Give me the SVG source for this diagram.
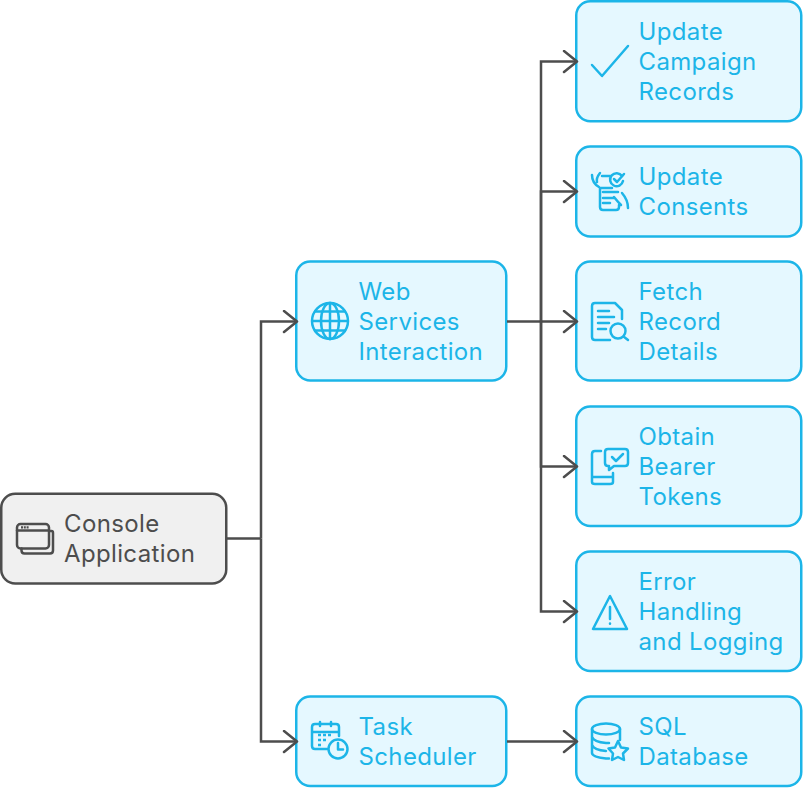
<svg xmlns="http://www.w3.org/2000/svg" width="803" height="788" viewBox="0 0 803 788">
<style>
.b{fill:#e5f8ff;stroke:#1cb5e8;stroke-width:2.5}
.g{fill:#f0f0f0;stroke:#4d4d4d;stroke-width:2.5}
text{font-family:Inter,"Liberation Sans",sans-serif;font-size:24px;letter-spacing:.36px;fill:#1cb5e8}
.i{fill:none;stroke:#1cb5e8;stroke-width:2.5;stroke-linecap:round;stroke-linejoin:round}
.k{fill:none;stroke:#4d4d4d;stroke-width:2.5;stroke-linecap:round;stroke-linejoin:round}
.c{fill:none;stroke:#4d4d4d;stroke-width:2.5}
</style>
<defs>
<marker id="a" markerUnits="userSpaceOnUse" markerWidth="20" markerHeight="24" refX="14" refY="12" orient="auto"><path d="M2 1.500L15 12L2 22.500" fill="none" stroke="#4d4d4d" stroke-width="2.500" stroke-linecap="round" stroke-linejoin="round"/></marker>
</defs>
<g id="console">
<rect class="g" x="1.250" y="493.750" width="225" height="89.750" rx="14"/>
<rect class="k" x="17" y="524" width="32" height="24.500" rx="3.500"/>
<path class="k" d="M17 530.500H49M49.500 531H51.500Q53 531 53 533V550.500Q53 553.500 50 553.500H24.500Q21.500 553.500 21.500 550.500V548.500"/>
<path d="M21 527.300h8" stroke="#4d4d4d" stroke-width="2.200" stroke-dasharray="2 .8" fill="none"/>
<text x="64" y="532" style="fill:#4d4d4d">Console</text>
<text x="64" y="562" style="fill:#4d4d4d">Application</text>
</g>
<g id="web-services">
<rect class="b" x="296.250" y="261.500" width="210" height="119" rx="14"/>
<circle class="i" cx="330" cy="321" r="18"/>
<ellipse class="i" cx="330" cy="321" rx="9" ry="18"/>
<path class="i" d="M330 303V339M312.500 321H347.500M315 311.500H345M315 330.500H345"/>
<text x="358.500" y="300">Web</text><text x="358.500" y="330">Services</text><text x="358.500" y="360">Interaction</text>
</g>
<g id="update-campaign">
<rect class="b" x="576.250" y="1.250" width="225" height="120" rx="14"/>
<path class="i" d="M592 65L602 76L628 46"/>
<text x="638.500" y="40">Update</text><text x="638.500" y="70">Campaign</text><text x="638.500" y="100">Records</text>
</g>
<g id="update-consents">
<rect class="b" x="576.250" y="146.500" width="225" height="90" rx="14"/>
<path class="i" d="M600 188V207Q600 210 603 210H616Q619 210 619 207V205M612 188H600M603 192H618M603 198H614M603 203H610M602 176H610M592 175Q592 183 599 187M600 173Q596 178 597 182M614 197Q618 202 621 205M622 193Q628 200 628 208"/>
<path class="i" d="M622 176A6.500 6.500 0 1 0 623 181"/>
<path class="i" d="M614 179L617 182L624 174"/>
<text x="638.500" y="185">Update</text><text x="638.500" y="215">Consents</text>
</g>
<g id="fetch-record">
<rect class="b" x="576.250" y="261.500" width="225" height="119" rx="14"/>
<path class="i" d="M610 340H595Q592 340 592 337V306Q592 303 595 303H615L622 310V319"/>
<path class="i" d="M598 311H609M598 317H614M598 323H609M598 329H606"/>
<circle class="i" cx="618" cy="331" r="7.500"/>
<path class="i" d="M623.500 336.500L628 340"/>
<text x="638.500" y="300">Fetch</text><text x="638.500" y="330">Record</text><text x="638.500" y="360">Details</text>
</g>
<g id="obtain-tokens">
<rect class="b" x="576.250" y="406.500" width="225" height="119.500" rx="14"/>
<path class="i" d="M601 451H595Q592 451 592 454V482Q592 484 595 484H610Q613 484 613 482V473M592 477H613"/>
<path class="i" d="M608 449H625Q628 449 628 452V463Q628 466 625 466H614L609 470V466H608Q605 466 605 463V452Q605 449 608 449Z"/>
<path class="i" d="M612 457L616 461L623 454"/>
<text x="638.500" y="445">Obtain</text><text x="638.500" y="475">Bearer</text><text x="638.500" y="505">Tokens</text>
</g>
<g id="error-handling">
<rect class="b" x="576.250" y="551.500" width="225" height="119.500" rx="14"/>
<path class="i" d="M610 596L593 629H627Z"/>
<path class="i" d="M610 607V619M610 623.500V623.700"/>
<text x="638.500" y="590">Error</text><text x="638.500" y="620">Handling</text><text x="638.500" y="650">and Logging</text>
</g>
<g id="task-scheduler">
<rect class="b" x="296.250" y="696.500" width="210" height="89.500" rx="14"/>
<path class="i" d="M327 749H315Q312 749 312 746V727Q312 724 315 724H336Q339 724 339 727V736M312 732H339M320 722V726M331 722V726"/>
<path d="M318 735h3M323 735h3M328 735h3M318 740h3M323 740h3M318 745h3" stroke="#1cb5e8" stroke-width="2.500" fill="none"/>
<circle class="i" cx="338" cy="749" r="9.500"/>
<path class="i" d="M338 743V749.500H343"/>
<text x="358.500" y="735">Task</text><text x="358.500" y="765">Scheduler</text>
</g>
<g id="sql-database">
<rect class="b" x="576.250" y="696.500" width="225" height="89.500" rx="14"/>
<ellipse class="i" cx="606" cy="729" rx="14" ry="5.500"/>
<path class="i" d="M592 729V753Q592 757 606 758.500H609M620 729V740M592 737Q594 742 606 743H609M592 745Q594 750 606 751"/>
<path class="i" d="M618 741L621 747.500L628 748.500L623 753.500L624 760L618 757L612 760L613 753.500L608.500 748.500L615 747.500Z"/>
<text x="638.500" y="735">SQL</text><text x="638.500" y="765">Database</text>
</g>
<g id="connectors">
<path class="c" d="M227 538.500H261"/>
<path class="c" d="M261 538.500V321.500H296" marker-end="url(#a)"/>
<path class="c" d="M261 538.500V741.500H296" marker-end="url(#a)"/>
<path class="c" d="M507 321.500H576" marker-end="url(#a)"/>
<path class="c" d="M541 321.500V61.500H576" marker-end="url(#a)"/>
<path class="c" d="M541 321.500V191.500H576" marker-end="url(#a)"/>
<path class="c" d="M541 321.500V466.500H576" marker-end="url(#a)"/>
<path class="c" d="M541 321.500V611.500H576" marker-end="url(#a)"/>
<path class="c" d="M507 741.500H576" marker-end="url(#a)"/>
</g>
</svg>
